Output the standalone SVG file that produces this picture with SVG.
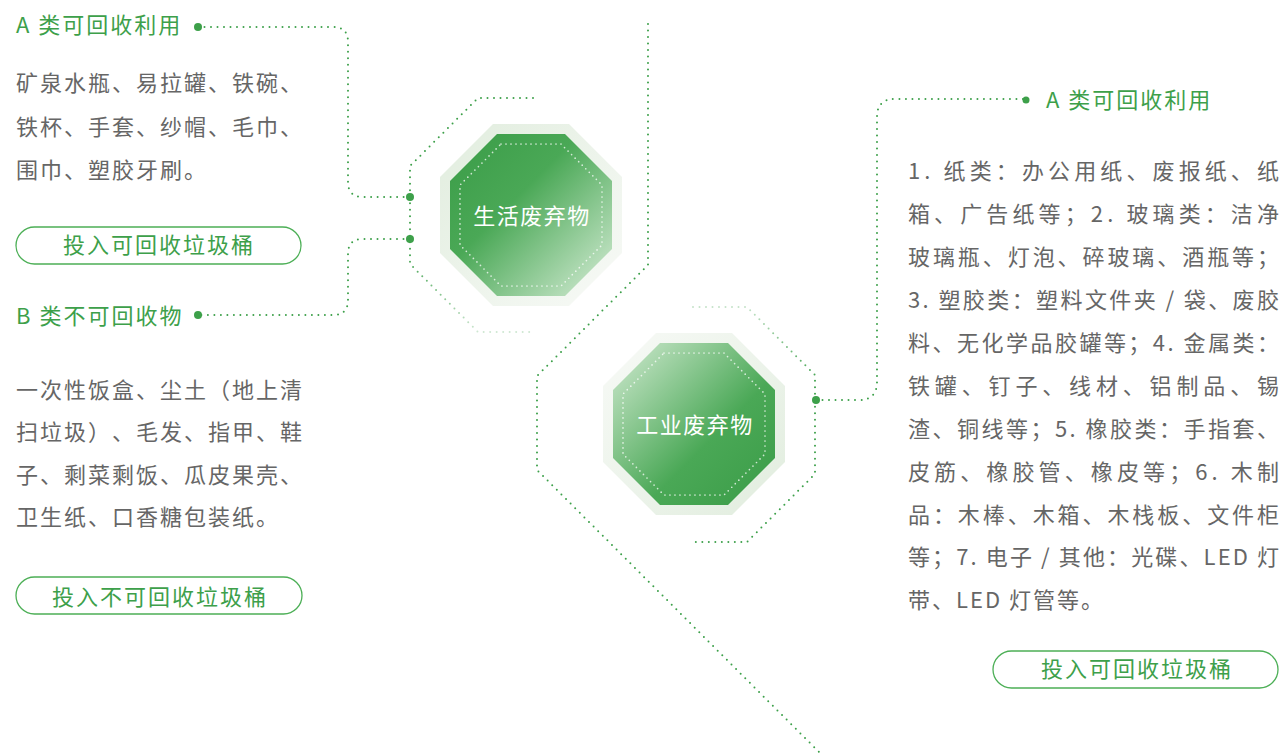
<svg xmlns="http://www.w3.org/2000/svg" width="1283" height="755" viewBox="0 0 1283 755">
<defs>
<linearGradient id="o1mid" x1="0" y1="0" x2="1" y2="1"><stop offset="0" stop-color="#3a9c47"/><stop offset="0.4" stop-color="#4aa856"/><stop offset="1" stop-color="#d9eed9"/></linearGradient>
<linearGradient id="o1out" x1="0" y1="0" x2="1" y2="1"><stop offset="0" stop-color="#e1edde"/><stop offset="1" stop-color="#f8faf7"/></linearGradient>
<linearGradient id="o2mid" x1="0" y1="0" x2="1" y2="1"><stop offset="0" stop-color="#d3ebd3"/><stop offset="0.6" stop-color="#4aa856"/><stop offset="1" stop-color="#3a9c47"/></linearGradient>
<linearGradient id="o2out" x1="0" y1="0" x2="1" y2="1"><stop offset="0" stop-color="#f8faf7"/><stop offset="1" stop-color="#e1edde"/></linearGradient>
<linearGradient id="fadeDown" gradientUnits="userSpaceOnUse" x1="0" y1="98" x2="0" y2="332"><stop offset="0" stop-color="#3da04a"/><stop offset="0.66" stop-color="#3da04a"/><stop offset="1" stop-color="#3da04a" stop-opacity="0.25"/></linearGradient>
<linearGradient id="fadeUp" gradientUnits="userSpaceOnUse" x1="0" y1="307" x2="0" y2="542"><stop offset="0" stop-color="#3da04a" stop-opacity="0.3"/><stop offset="0.32" stop-color="#3da04a"/><stop offset="1" stop-color="#3da04a"/></linearGradient>
</defs>
<style>
.dot{fill:none;stroke:#3da04a;stroke-width:2;stroke-dasharray:0 6.5;stroke-linecap:round}
.pin{fill:#3da04a}
.inner{fill:none;stroke:#ffffff;stroke-opacity:0.75;stroke-width:1.7;stroke-dasharray:0 5;stroke-linecap:round}
.t{font-family:"Noto Sans CJK SC","Noto Sans",sans-serif;font-size:22px;text-spacing-trim:space-all}
.title{fill:#3da04a;letter-spacing:2px}
.body{fill:#666666;letter-spacing:2px}
.rbody{fill:#666666}
.btn{fill:none;stroke:#4caf56;stroke-width:1.3}
.btxt{fill:#3da04a;letter-spacing:2px;text-anchor:middle}
.ntxt{fill:#ffffff;letter-spacing:1.5px;text-anchor:middle}
</style>

<g id="connectors">
<path class="dot" d="M198,27 H333 Q348,27 348,42 V182 Q348,197 363,197 H410"/>
<path class="dot" d="M410,239 H363 Q348,239 348,254 V300 Q348,315 333,315 H198"/>
<path class="dot" style="stroke:url(#fadeDown)" d="M533,98 H478 L410,166 V264 L478,332 H533"/>
<path class="dot" d="M648,24 V265 L537,376 V470 L820,753"/>
<path class="dot" style="stroke:url(#fadeUp)" d="M693,307 H747 L815,375 V474 L747,542 H693"/>
<path class="dot" d="M816,400 H859 Q877,400 877,382 V117 Q877,99 895,99 H1026"/>
<circle class="pin" cx="198" cy="27" r="4"/>
<circle class="pin" cx="410" cy="197" r="4"/>
<circle class="pin" cx="410" cy="239" r="4"/>
<circle class="pin" cx="198" cy="315" r="4"/>
<circle class="pin" cx="816" cy="400" r="4"/>
<circle class="pin" cx="1026" cy="100" r="3.5"/>
</g>

<g id="node-household">
<polygon fill="url(#o1out)" points="493,124 569,124 622,177 622,253 569,306 493,306 440,253 440,177"/>
<polygon fill="url(#o1mid)" points="497,134 565,134 612,181 612,249 565,296 497,296 450,249 450,181"/>
<polygon class="inner" points="501,144 561,144 602,185 602,245 561,286 501,286 460,245 460,185"/>
<text class="t ntxt" x="532" y="224">生活废弃物</text>
</g>

<g id="node-industrial">
<polygon fill="url(#o2out)" points="656,333 732,333 785,386 785,462 732,515 656,515 603,462 603,386"/>
<polygon fill="url(#o2mid)" points="660,343 728,343 775,390 775,458 728,505 660,505 613,458 613,390"/>
<polygon class="inner" points="664,353 724,353 765,394 765,454 724,495 664,495 623,454 623,394"/>
<text class="t ntxt" x="695" y="433">工业废弃物</text>
</g>

<g id="node-household-a">
<text class="t title" x="16" y="33">A 类可回收利用</text>
<text class="t body" x="16" y="91">矿泉水瓶、易拉罐、铁碗、</text>
<text class="t body" x="16" y="135">铁杯、手套、纱帽、毛巾、</text>
<text class="t body" x="16" y="178">围巾、塑胶牙刷。</text>
<rect class="btn" x="16" y="227" width="285" height="37" rx="18.5"/>
<text class="t btxt" x="159" y="253">投入可回收垃圾桶</text>
</g>

<g id="node-household-b">
<text class="t title" x="16" y="324">B 类不可回收物</text>
<text class="t body" x="16" y="398">一次性饭盒、尘土（地上清</text>
<text class="t body" x="16" y="440">扫垃圾）、毛发、指甲、鞋</text>
<text class="t body" x="16" y="483">子、剩菜剩饭、瓜皮果壳、</text>
<text class="t body" x="16" y="525">卫生纸、口香糖包装纸。</text>
<rect class="btn" x="16" y="577" width="286" height="37" rx="18.5"/>
<text class="t btxt" x="160" y="605">投入不可回收垃圾桶</text>
</g>

<g id="node-industrial-a">
<text class="t title" x="1046" y="108">A 类可回收利用</text>
<text class="t rbody" x="908" y="179" textLength="371" lengthAdjust="spacing">1. 纸类：办公用纸、废报纸、纸</text>
<text class="t rbody" x="908" y="222" textLength="371" lengthAdjust="spacing">箱、广告纸等；2. 玻璃类：洁净</text>
<text class="t rbody" x="908" y="265" textLength="371" lengthAdjust="spacing">玻璃瓶、灯泡、碎玻璃、酒瓶等；</text>
<text class="t rbody" x="908" y="308" textLength="371" lengthAdjust="spacing">3. 塑胶类：塑料文件夹 / 袋、废胶</text>
<text class="t rbody" x="908" y="351" textLength="371" lengthAdjust="spacing">料、无化学品胶罐等；4. 金属类：</text>
<text class="t rbody" x="908" y="394" textLength="371" lengthAdjust="spacing">铁罐、钉子、线材、铝制品、锡</text>
<text class="t rbody" x="908" y="437" textLength="371" lengthAdjust="spacing">渣、铜线等；5. 橡胶类：手指套、</text>
<text class="t rbody" x="908" y="480" textLength="371" lengthAdjust="spacing">皮筋、橡胶管、橡皮等；6. 木制</text>
<text class="t rbody" x="908" y="523" textLength="371" lengthAdjust="spacing">品：木棒、木箱、木栈板、文件柜</text>
<text class="t rbody" x="908" y="565" textLength="371" lengthAdjust="spacing">等；7. 电子 / 其他：光碟、LED 灯</text>
<text class="t body" x="908" y="608">带、LED 灯管等。</text>
<rect class="btn" x="993" y="651" width="285" height="37" rx="18.5"/>
<text class="t btxt" x="1137" y="677">投入可回收垃圾桶</text>
</g>
</svg>
